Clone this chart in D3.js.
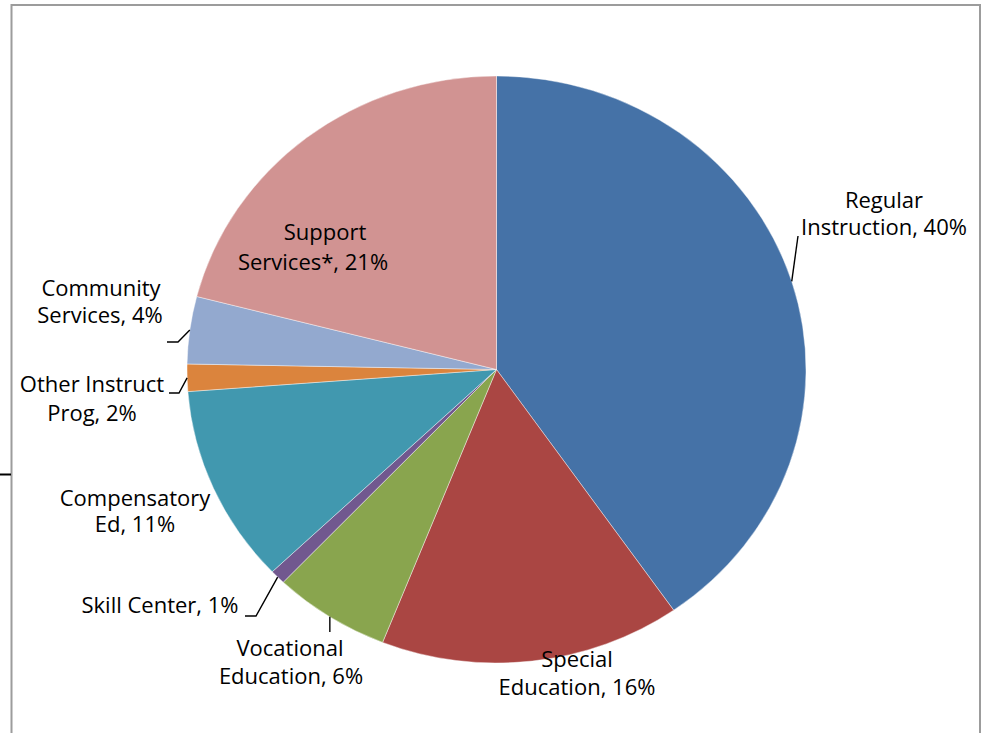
<!DOCTYPE html>
<html>
<head>
<meta charset="utf-8">
<script src="https://d3js.org/d3.v7.min.js"></script>
<style>
  body { margin: 0; background: #fff; }
  svg { display: block; }
  text { font-family: "Open Sans", Lato, sans-serif; font-size: 22px; fill: #000; }
</style>
</head>
<body>
<svg width="982" height="733"></svg>
<script>
// slices, clockwise from 12 o'clock
const categories = ["Regular Instruction", "Special Education", "Vocational Education", "Skill Center",
                    "Compensatory Ed", "Other Instruct Prog", "Community Services", "Support Services*"];
const shares = [40.3, 15.7, 6.1, 0.8, 10.9, 1.5, 3.7, 21.0];
const shownPct = ["40%", "16%", "6%", "1%", "11%", "2%", "4%", "21%"];
const colors = ["#4572A7", "#AA4643", "#89A54E", "#71588F", "#4198AF", "#DB843D", "#93A9CF", "#D19392"];

// how each label is broken into lines
const labelLines = [
  ["Regular", "Instruction, 40%"],
  ["Special", "Education, 16%"],
  ["Vocational", "Education, 6%"],
  ["Skill Center, 1%"],
  ["Compensatory", "Ed, 11%"],
  ["Other Instruct", "Prog, 2%"],
  ["Community", "Services, 4%"],
  ["Support", "Services*, 21%"]
];

const width = 982, height = 733;
const cx = 496.5, cy = 369.5, r = 309.5, squash = 293.5 / 309.5;

// label placement (line centres / baselines) and leader line bends
const labelPos = [
  { lines: [[884, 208], [884, 235]], leader: [[798, 236]] },
  { lines: [[577, 667], [577, 695]], leader: null },
  { lines: [[290, 656], [291, 684]], leader: "down", to: 632 },
  { lines: [[160, 613]], leader: [[256, 616], [245, 616]] },
  { lines: [[135, 506], [135, 532]], leader: null },
  { lines: [[92, 392], [92, 421]], leader: [[179, 393], [169, 393]] },
  { lines: [[101, 296], [100, 323]], leader: [[178, 342], [167, 342]] },
  { lines: [[325, 240], [313, 270]], leader: null }
];

const svg = d3.select("svg").attr("viewBox", [0, 0, width, height]);

// frame
svg.append("rect")
  .attr("x", 11.5).attr("y", 5)
  .attr("width", 968.5).attr("height", 760)
  .attr("fill", "none")
  .attr("stroke", "#9c9c9c")
  .attr("stroke-width", 2);

svg.append("line")
  .attr("x1", 0).attr("x2", 11)
  .attr("y1", 474.5).attr("y2", 474.5)
  .attr("stroke", "#000")
  .attr("stroke-width", 2);

const pie = d3.pie().sort(null).value(d => d)(shares);
const arc = d3.arc().innerRadius(0).outerRadius(r);

svg.append("g")
    .attr("transform", `translate(${cx},${cy}) scale(1,${squash})`)
  .selectAll("path")
  .data(pie)
  .join("path")
    .attr("d", arc)
    .attr("fill", (d, i) => colors[i])
    .attr("stroke", "#fff")
    .attr("stroke-width", 0.6)
    .attr("stroke-opacity", 0.7)
    .attr("vector-effect", "non-scaling-stroke");

// point on the pie's edge at the middle of a slice
function edgePoint(d) {
  const a = (d.startAngle + d.endAngle) / 2;
  return [cx + r * Math.sin(a), cy - r * squash * Math.cos(a)];
}

const leaders = svg.append("g")
  .attr("fill", "none")
  .attr("stroke", "#000")
  .attr("stroke-width", 1.4);

pie.forEach((d, i) => {
  const lp = labelPos[i];
  if (!lp.leader) return;
  const p0 = edgePoint(d);
  let pts;
  if (lp.leader === "down") pts = [p0, [p0[0], lp.to]];
  else pts = [p0].concat(lp.leader);
  leaders.append("path").attr("d", d3.line()(pts));
});

const labels = svg.append("g").attr("text-anchor", "middle");
labelLines.forEach((lines, i) => {
  lines.forEach((t, j) => {
    const [x, y] = labelPos[i].lines[j];
    labels.append("text").attr("x", x).attr("y", y).text(t);
  });
});
</script>
</body>
</html>
